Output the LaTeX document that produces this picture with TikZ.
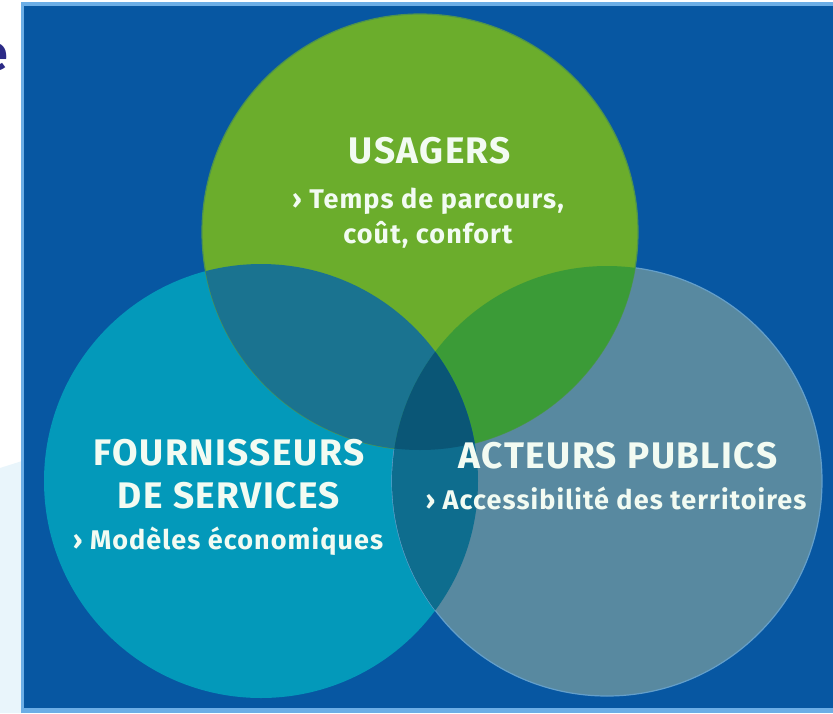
\documentclass[tikz,border=0pt]{standalone}
\usepackage{fontspec}
\setmainfont{Fira Sans}
\newfontfamily\dinfont[LetterSpace=4]{Fira Sans}

\definecolor{panelblue}{HTML}{0757A2}
\definecolor{edgeblue}{HTML}{6CAEE6}
\definecolor{palebg}{HTML}{E9F5FB}
\definecolor{navytext}{HTML}{2B2A86}
\definecolor{usagergreen}{HTML}{6BAD2C}
\definecolor{servteal}{HTML}{0399BA}
\definecolor{publicgrey}{HTML}{5889A0}
\definecolor{greenteal}{HTML}{1A7390}
\definecolor{greengrey}{HTML}{3B9B37}
\definecolor{tealgrey}{HTML}{0E6D8E}
\definecolor{allthree}{HTML}{0A5676}
\definecolor{labeltext}{HTML}{F2FBF2}

\begin{document}
\begin{tikzpicture}[x=1pt,y=-1pt,
    title/.style={font=\dinfont\bfseries\fontsize{37}{43}\selectfont, text=labeltext, align=center, inner sep=0pt},
    subtitle/.style={font=\dinfont\bfseries\fontsize{27}{35}\selectfont, text=labeltext, align=center, inner sep=0pt}]
    \useasboundingbox (0,0) rectangle (833,713);

    % white margin with its pale lower part and the cut letter
    \fill[palebg] (0,468) -- (22,461) -- (22,713) -- (0,713) -- cycle;
    \node[anchor=east, inner sep=0pt, text=navytext, font=\bfseries\fontsize{50}{50}\selectfont] (cutletter) at (8,57) {e};

    % blue panel
    \fill[edgeblue] (21,2) rectangle (840,713);
    \fill[panelblue] (23.5,5.5) rectangle (840,707.5);

    % the three circles
    \fill[servteal] (261,481) circle[radius=217pt];
    \fill[publicgrey, draw=edgeblue!60!publicgrey, line width=1.2pt] (607,481) circle[radius=215pt];
    \fill[usagergreen, draw=usagergreen!70!panelblue, line width=1.2pt] (420,232) circle[radius=218pt];

    % green and teal
    \begin{scope}
        \clip (420,232) circle[radius=218pt];
        \fill[greenteal] (261,481) circle[radius=217pt];
    \end{scope}
    % green and grey
    \begin{scope}
        \clip (420,232) circle[radius=218pt];
        \fill[greengrey] (607,481) circle[radius=215pt];
    \end{scope}
    % teal and grey
    \begin{scope}
        \clip (261,481) circle[radius=217pt];
        \fill[tealgrey] (607,481) circle[radius=215pt];
    \end{scope}
    % all three
    \begin{scope}
        \clip (420,232) circle[radius=218pt];
        \clip (261,481) circle[radius=217pt];
        \fill[allthree] (607,481) circle[radius=215pt];
    \end{scope}

    % labels
    \node[title] (usagers) at (430,151) {USAGERS};
    \node[subtitle] (usagerssub) at (428,218) {› Temps de parcours,\\ coût, confort};

    \node[title] (fournisseurs) at (229,474) {FOURNISSEURS\\ DE SERVICES};
    \node[subtitle] (fournisseurssub) at (228,541) {› Modèles économiques};

    \node[title] (acteurs) at (618,456) {ACTEURS PUBLICS};
    \node[subtitle] (acteurssub) at (616,498) {› Accessibilité des territoires};
\end{tikzpicture}
\end{document}
